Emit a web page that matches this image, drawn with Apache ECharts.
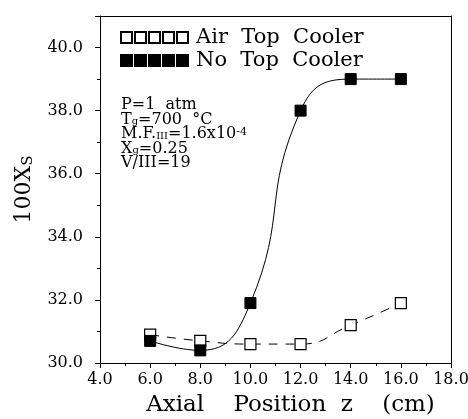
<!DOCTYPE html>
<html>
<head>
<meta charset="utf-8">
<script src="https://cdn.jsdelivr.net/npm/echarts@6/dist/echarts.min.js"></script>
<style>
  html, body { margin: 0; padding: 0; background: #fff; }
  #chart { width: 468px; height: 419px; }
</style>
</head>
<body>
<div id="chart"></div>
<script>
// Axial positions (cm) where the solid fraction was measured
const positions = [6.0, 8.0, 10.0, 12.0, 14.0, 16.0];
// 100·X_S for each reactor configuration
const airTopCooler = [30.9, 30.7, 30.6, 30.6, 31.2, 31.9];
const noTopCooler = [30.7, 30.4, 31.9, 38.0, 39.0, 39.0];
const seriesNames = ['Air  Top  Cooler', 'No  Top  Cooler'];

const FONT = 'DejaVu Serif';
const pairs = (ys) => positions.map((x, i) => [x, ys[i]]);
const fmt = (v) => v.toFixed(1);

// five small squares in a row used as the legend swatch
const fiveSquares = 'path://M0,0h11v11h-11z M14,0h11v11h-11z M28,0h11v11h-11z M42,0h11v11h-11z M56,0h11v11h-11z';

// plain frame lines for the top and right edges of the plot box
const frameAxis = {
  show: true,
  axisLine: { show: true, onZero: false, lineStyle: { color: '#000', width: 1 } },
  axisTick: { show: false }, axisLabel: { show: false }, splitLine: { show: false }
};

const chart = echarts.init(document.getElementById('chart'));
chart.setOption({
  backgroundColor: '#fff',
  animation: false,
  grid: { left: 100, right: 17, top: 16, bottom: 56, outerBoundsMode: 'none', containLabel: false },
  legend: {
    left: 115, top: 22, orient: 'vertical', itemGap: 2,
    itemWidth: 67, itemHeight: 11,
    icon: fiveSquares,
    textStyle: { fontFamily: FONT, fontSize: 21, lineHeight: 20, color: '#000', padding: [0, 0, 0, 3] },
    data: seriesNames
  },
  xAxis: [{
    type: 'value', min: 4, max: 18, interval: 2,
    name: 'Axial    Position  z    (cm)', nameLocation: 'middle', nameGap: 31,
    nameTextStyle: { fontFamily: FONT, fontSize: 23, color: '#000', padding: [0, 0, 0, 30] },
    axisLine: { onZero: false, lineStyle: { color: '#000', width: 1 } },
    axisTick: { show: true, length: 5, lineStyle: { color: '#000' } },
    minorTick: { show: true, splitNumber: 2, length: 3, lineStyle: { color: '#000' } },
    axisLabel: { formatter: fmt, fontFamily: FONT, fontSize: 16, color: '#000', margin: 9 },
    splitLine: { show: false }
  }, Object.assign({ type: 'value', min: 4, max: 18, position: 'top' }, frameAxis)],
  yAxis: [{
    type: 'value', min: 30, max: 41, interval: 2,
    name: '100X{s|S}', nameLocation: 'middle', nameGap: 64, nameRotate: 90,
    nameTextStyle: {
      fontFamily: FONT, fontSize: 22, color: '#000',
      rich: { s: { fontFamily: FONT, fontSize: 15, color: '#000', verticalAlign: 'bottom', padding: [8, 0, 0, 0] } }
    },
    axisLine: { onZero: false, lineStyle: { color: '#000', width: 1 } },
    axisTick: { show: true, length: 5, lineStyle: { color: '#000' } },
    minorTick: { show: true, splitNumber: 2, length: 3, lineStyle: { color: '#000' } },
    axisLabel: { formatter: fmt, showMaxLabel: false, fontFamily: FONT, fontSize: 16, color: '#000', margin: 17 },
    splitLine: { show: false }
  }, Object.assign({ type: 'value', min: 30, max: 41, position: 'right' }, frameAxis)],
  series: [
    {
      name: seriesNames[0], type: 'line', data: pairs(airTopCooler), smooth: 0.5,
      symbol: 'rect', symbolSize: 11,
      itemStyle: { color: '#fff', borderColor: '#000', borderWidth: 1.2 },
      lineStyle: { color: '#000', width: 1, type: [9, 8] },
      z: 3
    },
    {
      name: seriesNames[1], type: 'line', data: pairs(noTopCooler), smooth: 0.5,
      symbol: 'rect', symbolSize: 11,
      itemStyle: { color: '#000', borderColor: '#000', borderWidth: 1 },
      lineStyle: { color: '#000', width: 1 },
      z: 4
    }
  ],
  graphic: [{
    type: 'text', left: 121, top: 97,
    style: {
      text: [
        'P=1  atm',
        'T{sub|g}=700  °C',
        'M.F.{sub|III}=1.6x10{sup|-4}',
        'X{sub|g}=0.25',
        'V/III=19'
      ].join('\n'),
      fontFamily: FONT, fontSize: 16, lineHeight: 14.5, fill: '#000',
      rich: {
        sub: { fontFamily: FONT, fontSize: 10, fill: '#000', verticalAlign: 'bottom', lineHeight: 14.5, padding: [6, 0, 0, 0] },
        sup: { fontFamily: FONT, fontSize: 11, fill: '#000', verticalAlign: 'top', lineHeight: 14.5, padding: [0, 0, 8, 0] }
      }
    }
  }]
});
</script>
</body>
</html>
